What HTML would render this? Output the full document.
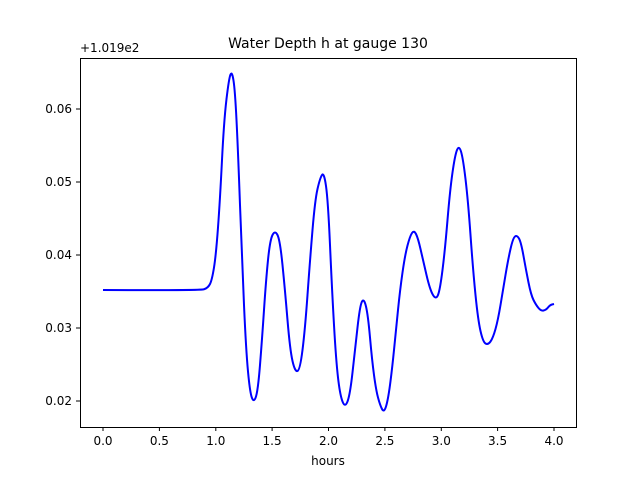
<!DOCTYPE html>
<html><head><meta charset="utf-8"><style>body{margin:0;background:#fff}svg{display:block;font-family:"DejaVu Sans","Liberation Sans",sans-serif}</style></head><body>
<svg width="640" height="480" viewBox="0 0 640 480" xmlns="http://www.w3.org/2000/svg">
<rect width="640" height="480" fill="#fff"/>
<text x="328" y="48" font-size="14" text-anchor="middle">Water Depth h at gauge 130</text>
<text x="80" y="52" font-size="12">+1.019e2</text>
<path fill="none" stroke="#0000ff" stroke-width="2" stroke-linejoin="round" d="M103,290 Q200,290.5 204,289.25 Q208,288 210,284 Q212,280 214,267.5 Q216,255 218,227.5 Q220,200 222,160 Q224,120 226.5,99 Q229,78 230.5,74.5 Q232,71 233.5,80.5 Q235,90 236.5,120 Q238,150 240,205 Q242,260 244,305 Q246,350 248,371.5 Q250,393 252,398 Q254,403 256,396.5 Q258,390 260,365 Q262,340 264,310 Q266,280 268,260 Q270,240 272.5,235 Q275,230 277.5,235 Q280,240 282.5,265 Q285,290 287.5,320 Q290,350 292.5,361 Q295,372 297.5,371 Q300,370 302.5,350 Q305,330 307.5,295 Q310,260 312.5,230 Q315,200 317.5,189 Q320,178 322,175 Q324,172 326,186 Q328,200 330,245 Q332,290 334,325 Q336,360 338,377.5 Q340,395 342.5,401.5 Q345,408 347.5,401.5 Q350,395 352.5,372.5 Q355,350 357.5,327.5 Q360,305 362,301.5 Q364,298 366,306.5 Q368,315 370,337.5 Q372,360 374,375 Q376,390 378,397.5 Q380,405 382,409 Q384,413 386,406.5 Q388,400 390,385 Q392,370 394,350 Q396,330 398,310 Q400,290 402.5,272.5 Q405,255 407.5,245.5 Q410,236 412,233 Q414,230 416,234 Q418,238 420.5,249 Q423,260 426.5,275 Q430,290 433,295 Q436,300 438,295 Q440,290 442.5,270 Q445,250 447.5,220 Q450,190 452.5,172.5 Q455,155 457,150 Q459,145 461,151.5 Q463,158 465.5,179 Q468,200 470.5,235 Q473,270 475.5,295 Q478,320 480.5,331 Q483,342 485.5,343.5 Q488,345 490.5,341.5 Q493,338 495.5,329 Q498,320 500.5,305 Q503,290 505.5,275 Q508,260 510.5,249 Q513,238 515,236.5 Q517,235 519,238.5 Q521,242 523.5,256 Q526,270 528.5,282.5 Q531,295 533.5,300 Q536,305 538.5,308 Q541,311 543.5,310.5 Q546,310 548,307.5 Q550,305 552,304.5 L554,304"/>
<rect x="80.5" y="58.5" width="496" height="369" fill="none" stroke="#000" stroke-width="1"/>
<g stroke="#000" stroke-width="1">
<line x1="103" y1="427" x2="103" y2="431"/><line x1="159.4" y1="427" x2="159.4" y2="431"/><line x1="215.8" y1="427" x2="215.8" y2="431"/><line x1="272.1" y1="427" x2="272.1" y2="431"/><line x1="328.5" y1="427" x2="328.5" y2="431"/><line x1="384.9" y1="427" x2="384.9" y2="431"/><line x1="441.3" y1="427" x2="441.3" y2="431"/><line x1="497.6" y1="427" x2="497.6" y2="431"/><line x1="554" y1="427" x2="554" y2="431"/>
<line x1="76" y1="109" x2="80" y2="109"/><line x1="76" y1="182" x2="80" y2="182"/><line x1="76" y1="255" x2="80" y2="255"/><line x1="76" y1="328" x2="80" y2="328"/><line x1="76" y1="401" x2="80" y2="401"/>
</g>
<g font-size="12" text-anchor="middle">
<text x="103" y="445">0.0</text><text x="159.4" y="445">0.5</text><text x="215.8" y="445">1.0</text><text x="272.1" y="445">1.5</text><text x="328.5" y="445">2.0</text><text x="384.9" y="445">2.5</text><text x="441.3" y="445">3.0</text><text x="497.6" y="445">3.5</text><text x="554" y="445">4.0</text>
<text x="328" y="465">hours</text>
</g>
<g font-size="12" text-anchor="end">
<text x="72" y="113">0.06</text><text x="72" y="186">0.05</text><text x="72" y="259">0.04</text><text x="72" y="332">0.03</text><text x="72" y="405">0.02</text>
</g>
</svg>
</body></html>
